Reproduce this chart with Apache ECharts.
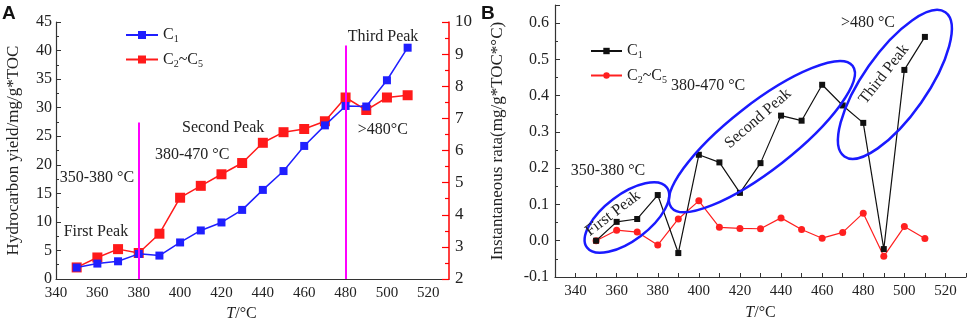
<!DOCTYPE html>
<html>
<head>
    <meta charset="utf-8">
    <title>Hydrocarbon yield and instantaneous rate</title>
    <script src="https://cdn.jsdelivr.net/npm/echarts@6/dist/echarts.min.js"></script>
    <style>
        html, body { margin: 0; padding: 0; background: #fff; }
    </style>
</head>
<body>
    <div id="main" style="width: 969px;height:323px;"></div>
    <script type="text/javascript">
        // temperatures (°C)
        var temps = [350, 360, 370, 380, 390, 400, 410, 420, 430, 440, 450, 460, 470, 480, 490, 500, 510];

        // panel A: cumulative yield, mg/g*TOC (C1 on left axis, C2~C5 on right axis)
        var yieldC1 = [2.0, 2.7, 3.1, 4.4, 4.1, 6.4, 8.5, 9.9, 12.1, 15.6, 18.9, 23.3, 26.9, 30.3, 30.2, 34.8, 40.5];
        var yieldC2C5 = [2.36, 2.67, 2.93, 2.81, 3.41, 4.53, 4.90, 5.26, 5.61, 6.24, 6.57, 6.67, 6.91, 7.65, 7.26, 7.65, 7.72];

        // panel B: instantaneous rate
        var rateC1 = [0.0, 0.052, 0.060, 0.126, -0.034, 0.237, 0.216, 0.132, 0.214, 0.345, 0.331, 0.430, 0.373, 0.325, -0.023, 0.471, 0.562];
        var rateC2C5 = [0.0, 0.029, 0.024, -0.012, 0.060, 0.110, 0.037, 0.034, 0.033, 0.063, 0.031, 0.007, 0.023, 0.076, -0.043, 0.039, 0.006];

        // peak boundaries in panel A (temperature, top of line on left axis)
        var peakLineTemps = [380, 480];
        var peakLineTops = [27.4, 40.9];

        function pairs(xs, ys) {
            return xs.map(function (x, i) { return [x, ys[i]]; });
        }

        var FONT = 'Liberation Serif';
        var rich = {
            n: { fontFamily: FONT, fontSize: 16, color: '#222' },
            s: { fontFamily: FONT, fontSize: 10, color: '#222', padding: [9, 0, 0, 0] },
            i: { fontFamily: FONT, fontSize: 16, color: '#222', fontStyle: 'italic' }
        };
        var legendNames = {
            'A-C1': '{n|C}{s|1}',
            'A-C2': '{n|C}{s|2}{n|~C}{s|5}',
            'B-C1': '{n|C}{s|1}',
            'B-C2': '{n|C}{s|2}{n|~C}{s|5}'
        };

        var myChart = echarts.init(document.getElementById('main'));

        var axisText = { fontFamily: FONT, fontSize: 15, color: '#222' };

        var option = {
            animation: false,
            backgroundColor: '#fff',
            textStyle: { fontFamily: FONT },
            grid: [
                { left: 56, top: 22, width: 393, height: 257, outerBoundsMode: 'none' },
                { left: 555, top: 5, width: 411, height: 272, outerBoundsMode: 'none' }
            ],
            legend: [{
                data: ['A-C1', 'A-C2'],
                orient: 'vertical',
                left: 120,
                top: 22,
                itemWidth: 32,
                itemHeight: 10,
                itemGap: 7,
                formatter: function (name) { return legendNames[name]; },
                textStyle: { rich: rich }
            }, {
                data: ['B-C1', 'B-C2'],
                orient: 'vertical',
                left: 585,
                top: 38,
                itemWidth: 31,
                itemHeight: 8,
                itemGap: 7,
                formatter: function (name) { return legendNames[name]; },
                textStyle: { rich: rich }
            }],
            xAxis: [{
                gridIndex: 0,
                type: 'value',
                min: 340,
                max: 530,
                interval: 20,
                name: '{i|T}{n|/°C}',
                nameLocation: 'middle',
                nameGap: 27,
                nameTextStyle: { rich: rich, padding: [0, 22, 0, 0] },
                axisLine: { onZero: false, lineStyle: { color: '#333', width: 1.2 } },
                axisTick: { show: false },
                axisLabel: Object.assign({ showMaxLabel: false, margin: 7 }, axisText),
                splitLine: { show: false }
            }, {
                gridIndex: 1,
                type: 'value',
                min: 330,
                max: 530,
                interval: 10,
                name: '{i|T}{n|/°C}',
                nameLocation: 'middle',
                nameGap: 28,
                nameTextStyle: { rich: rich },
                axisLine: { onZero: false, lineStyle: { color: '#333', width: 1.2 } },
                axisTick: { inside: true, length: 4, lineStyle: { color: '#333' } },
                axisLabel: Object.assign({
                    margin: 7,
                    formatter: function (v) { return (v % 20 === 0 && v < 530) ? String(v) : ''; }
                }, axisText),
                splitLine: { show: false }
            }],
            yAxis: [{
                gridIndex: 0,
                type: 'value',
                min: 0,
                max: 45,
                interval: 5,
                name: 'Hydrocarbon yield/mg/g*TOC',
                nameLocation: 'middle',
                nameGap: 34,
                nameTextStyle: { fontFamily: FONT, fontSize: 17, color: '#222' },
                axisLine: { show: true, onZero: false, lineStyle: { color: '#333', width: 1.2 } },
                axisTick: { inside: true, length: 5, lineStyle: { color: '#333' } },
                minorTick: { show: true, splitNumber: 2, length: 3, lineStyle: { color: '#333' } },
                axisLabel: Object.assign({ margin: 4 }, axisText, { fontSize: 16 }),
                splitLine: { show: false }
            }, {
                gridIndex: 0,
                type: 'value',
                position: 'right',
                min: 2,
                max: 10,
                interval: 1,
                axisLine: { show: true, onZero: false, lineStyle: { color: '#ff0000', width: 1.5 } },
                axisTick: { inside: true, length: 7, lineStyle: { color: '#ff0000', width: 1.2 } },
                minorTick: { show: true, splitNumber: 2, length: 4, lineStyle: { color: '#ff0000', width: 1.2 } },
                axisLabel: Object.assign({ margin: 6 }, axisText, { fontSize: 17 }),
                splitLine: { show: false }
            }, {
                gridIndex: 1,
                type: 'value',
                min: -0.1,
                max: 0.65,
                interval: 0.1,
                name: 'Instantaneous rata(mg/g*TOC*°C)',
                nameLocation: 'middle',
                nameGap: 49,
                nameTextStyle: { fontFamily: FONT, fontSize: 17, color: '#222' },
                axisLine: { show: true, onZero: false, lineStyle: { color: '#333', width: 1.2 } },
                axisTick: { inside: true, length: 5, lineStyle: { color: '#333' } },
                minorTick: { show: true, splitNumber: 2, length: 3, lineStyle: { color: '#333' } },
                axisLabel: Object.assign({
                    margin: 6,
                    showMaxLabel: false,
                    formatter: function (v) { return v.toFixed(1); }
                }, axisText, { fontSize: 16 }),
                splitLine: { show: false }
            }],
            series: [{
                name: 'A-C1',
                type: 'line',
                xAxisIndex: 0,
                yAxisIndex: 0,
                data: pairs(temps, yieldC1),
                symbol: 'rect',
                symbolSize: 8,
                z: 3,
                lineStyle: { color: '#1f1fff', width: 1.5 },
                itemStyle: { color: '#1f1fff' },
                markLine: {
                    silent: true,
                    symbol: 'none',
                    label: { show: false },
                    lineStyle: { color: '#ff00ff', width: 2, type: 'solid' },
                    data: peakLineTemps.map(function (t, i) {
                        return [{ coord: [t, 0] }, { coord: [t, peakLineTops[i]] }];
                    })
                }
            }, {
                name: 'A-C2',
                type: 'line',
                xAxisIndex: 0,
                yAxisIndex: 1,
                data: pairs(temps, yieldC2C5),
                symbol: 'rect',
                symbolSize: 10,
                z: 2,
                lineStyle: { color: '#ff1a1a', width: 1.5 },
                itemStyle: { color: '#ff1a1a' }
            }, {
                name: 'B-C1',
                type: 'line',
                xAxisIndex: 1,
                yAxisIndex: 2,
                data: pairs(temps, rateC1),
                symbol: 'rect',
                symbolSize: 6,
                z: 3,
                lineStyle: { color: '#111', width: 1.2 },
                itemStyle: { color: '#111' }
            }, {
                name: 'B-C2',
                type: 'line',
                xAxisIndex: 1,
                yAxisIndex: 2,
                data: pairs(temps, rateC2C5),
                symbol: 'circle',
                symbolSize: 7,
                z: 2,
                lineStyle: { color: '#ff2020', width: 1.2 },
                itemStyle: { color: '#ff2020' }
            }]
        };

        myChart.setOption(option);

        // annotations placed in data space, converted through the axes
        function px(grid, x, y) {
            var yi = grid === 0 ? 0 : 2;
            return myChart.convertToPixel({ xAxisIndex: grid, yAxisIndex: yi }, [x, y]);
        }
        function label(grid, x, y, text, rot) {
            var p = px(grid, x, y);
            return {
                type: 'text',
                x: p[0],
                y: p[1],
                rotation: rot ? rot * Math.PI / 180 : 0,
                style: {
                    text: text,
                    fontFamily: FONT,
                    fontSize: 16,
                    fill: '#222',
                    align: 'center',
                    verticalAlign: 'middle'
                },
                z: 10
            };
        }
        function ring(grid, x, y, a, b, rot) {
            var p = px(grid, x, y);
            return {
                type: 'ellipse',
                x: p[0],
                y: p[1],
                rotation: rot * Math.PI / 180,
                shape: { cx: 0, cy: 0, rx: a, ry: b },
                style: { fill: 'none', stroke: '#1a1aff', lineWidth: 2.5 },
                z: 9
            };
        }

        myChart.setOption({
            graphic: [
                { type: 'text', left: 2, top: 4, style: { text: 'A', fontFamily: 'Liberation Sans', fontWeight: 'bold', fontSize: 19, fill: '#111' } },
                { type: 'text', left: 481, top: 4, style: { text: 'B', fontFamily: 'Liberation Sans', fontWeight: 'bold', fontSize: 19, fill: '#111' } },
                label(0, 498.1, 42.4, 'Third Peak'),
                label(0, 359.8, 17.7, '350-380 °C'),
                label(0, 359.3, 8.2, 'First Peak'),
                label(0, 420.8, 26.4, 'Second Peak'),
                label(0, 405.8, 21.7, '380-470 °C'),
                label(0, 498.0, 26.1, '>480°C'),
                label(1, 355.8, 0.193, '350-380 °C'),
                label(1, 404.5, 0.428, '380-470 °C'),
                label(1, 482.3, 0.600, '>480 °C'),
                label(1, 358.2, 0.075, 'First Peak', 37),
                label(1, 428.8, 0.337, 'Second Peak', 41),
                label(1, 490.1, 0.459, 'Third Peak', 52),
                ring(1, 365.0, 0.064, 50, 23, 37),
                ring(1, 430.7, 0.287, 115, 33, 38),
                ring(1, 495.4, 0.431, 88, 32, 55)
            ]
        });
    </script>
</body>
</html>
